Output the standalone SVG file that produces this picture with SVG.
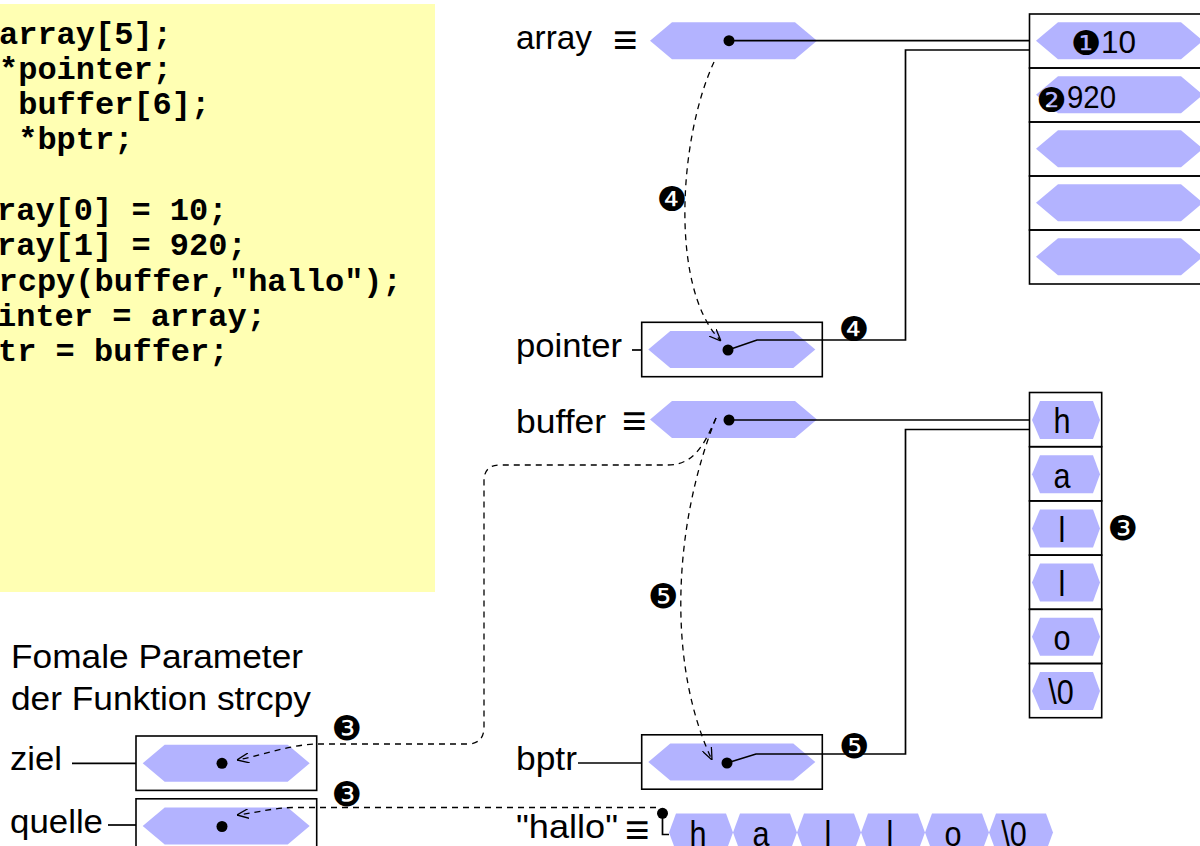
<svg xmlns="http://www.w3.org/2000/svg" xmlns:xlink="http://www.w3.org/1999/xlink" width="1200" height="846" viewBox="0 0 1200 846">
<style>
.lbl{font-family:"Liberation Sans",Arial,sans-serif;font-size:34px;fill:#000}
.eq{font-family:"Liberation Sans",Arial,sans-serif;font-size:42px;fill:#000}
.code{font-family:"Liberation Mono","Courier New",monospace;font-weight:bold;font-size:32px;fill:#000}
.cell{font-family:"Liberation Sans",Arial,sans-serif;font-size:36px;fill:#000;text-anchor:middle}
.val{font-family:"Liberation Sans",Arial,sans-serif;font-size:32px;fill:#000}
.num{font-family:"DejaVu Sans",sans-serif;font-size:34px;fill:#000;text-anchor:middle}
.hex{fill:#b3b3ff}
.box{fill:none;stroke:#000;stroke-width:1.6}
.ln{fill:none;stroke:#000;stroke-width:1.7}
.dash{fill:none;stroke:#000;stroke-width:1.3;stroke-dasharray:6 5}
.dot{fill:#000}
</style>
<defs>
<polygon id="hexL" class="hex" points="0,0 22,-18.5 145,-18.5 167,0 145,18.5 22,18.5"/>
<polygon id="hexS" class="hex" points="0,0 8,-19 61,-19 68,0 61,19 8,19"/>
<polygon id="hexH" class="hex" points="0,0 7,-19 57,-19 64,0 57,19 7,19"/>
<marker id="arr" viewBox="0 0 12 10" refX="12" refY="5" markerWidth="12" markerHeight="10" markerUnits="userSpaceOnUse" orient="auto">
<path d="M0,0 L12,5 L0,10" fill="none" stroke="#000" stroke-width="1.3"/>
</marker>
</defs>
<rect width="1200" height="846" fill="#fff"/>

<g id="code">
<rect x="0" y="4" width="435" height="588" fill="#ffffb3"/>
<text class="code" x="-1" y="43.5">array[5];</text>
<text class="code" x="-1" y="78.8">*pointer;</text>
<text class="code" x="18.2" y="114.1">buffer[6];</text>
<text class="code" x="18.2" y="149.4">*bptr;</text>
<text class="code" x="-3" y="220">ray[0] = 10;</text>
<text class="code" x="-3" y="255.3">ray[1] = 920;</text>
<text class="code" x="-1.5" y="290.6">rcpy(buffer,"hallo");</text>
<text class="code" x="-3" y="325.9">inter = array;</text>
<text class="code" x="-2" y="361.2">tr = buffer;</text>
</g>

<g id="node-array">
<text class="lbl" x="516" y="49" textLength="76" lengthAdjust="spacingAndGlyphs">array</text>
<text class="eq" x="613" y="54">≡</text>
<use xlink:href="#hexL" x="650" y="40.7"/>
<circle class="dot" cx="729" cy="40.7" r="5.5"/>
</g>

<g id="node-array-mem">
<rect class="box" x="1029.5" y="14" width="200" height="54"/>
<rect class="box" x="1029.5" y="68" width="200" height="54"/>
<rect class="box" x="1029.5" y="122" width="200" height="54"/>
<rect class="box" x="1029.5" y="176" width="200" height="54"/>
<rect class="box" x="1029.5" y="230" width="200" height="54"/>
<use xlink:href="#hexL" x="1036" y="40.7"/>
<use xlink:href="#hexL" x="1036" y="94.7"/>
<use xlink:href="#hexL" x="1036" y="148.7"/>
<use xlink:href="#hexL" x="1036" y="202.7"/>
<use xlink:href="#hexL" x="1036" y="256.7"/>
<text class="num" x="1086" y="54.6">❶</text>
<text class="val" x="1101" y="53.3" textLength="35" lengthAdjust="spacingAndGlyphs">10</text>
<text class="num" x="1051.5" y="111.6">❷</text>
<text class="val" x="1067" y="108" textLength="49" lengthAdjust="spacingAndGlyphs">920</text>
</g>

<g id="node-pointer">
<text class="lbl" x="516" y="357" textLength="106" lengthAdjust="spacingAndGlyphs">pointer</text>
<rect class="box" x="641.7" y="322.3" width="180.6" height="54.4"/>
<use xlink:href="#hexL" x="648.3" y="349.5"/>
<circle class="dot" cx="728" cy="350" r="5.5"/>
</g>

<g id="node-buffer">
<text class="lbl" x="516" y="433" textLength="90" lengthAdjust="spacingAndGlyphs">buffer</text>
<text class="eq" x="622" y="434.7">≡</text>
<use xlink:href="#hexL" x="650" y="419.5"/>
<circle class="dot" cx="729" cy="420" r="5.5"/>
</g>

<g id="node-buffer-mem">
<rect class="box" x="1029.5" y="392.5" width="72.2" height="54.2"/>
<rect class="box" x="1029.5" y="446.7" width="72.2" height="54.2"/>
<rect class="box" x="1029.5" y="500.9" width="72.2" height="54.2"/>
<rect class="box" x="1029.5" y="555.1" width="72.2" height="54.2"/>
<rect class="box" x="1029.5" y="609.3" width="72.2" height="54.2"/>
<rect class="box" x="1029.5" y="663.5" width="72.2" height="54.2"/>
<use xlink:href="#hexS" x="1032" y="420"/>
<use xlink:href="#hexS" x="1032" y="474.2"/>
<use xlink:href="#hexS" x="1032" y="528.4"/>
<use xlink:href="#hexS" x="1032" y="582.6"/>
<use xlink:href="#hexS" x="1032" y="636.8"/>
<use xlink:href="#hexS" x="1032" y="691"/>
<text class="cell" transform="translate(1062,433.3) scale(0.85,1)">h</text>
<text class="cell" transform="translate(1062,487.5) scale(0.85,1)">a</text>
<text class="cell" transform="translate(1062,541.7) scale(0.85,1)">l</text>
<text class="cell" transform="translate(1062,595.9) scale(0.85,1)">l</text>
<text class="cell" transform="translate(1062,650.1) scale(0.85,1)">o</text>
<text class="cell" transform="translate(1061,704.3) scale(0.85,1)">\0</text>
<text class="num" x="1123" y="539.6">❸</text>
</g>

<g id="node-bptr">
<text class="lbl" x="516" y="770" textLength="61" lengthAdjust="spacingAndGlyphs">bptr</text>
<rect class="box" x="641.7" y="734.8" width="180.6" height="54.4"/>
<use xlink:href="#hexL" x="648.3" y="762"/>
<circle class="dot" cx="727" cy="763" r="5.5"/>
</g>

<g id="node-params">
<text class="lbl" x="11" y="668" textLength="292" lengthAdjust="spacingAndGlyphs">Fomale Parameter</text>
<text class="lbl" x="11" y="709.5" textLength="300" lengthAdjust="spacingAndGlyphs">der Funktion strcpy</text>
</g>

<g id="node-ziel">
<text class="lbl" x="10" y="770" textLength="52" lengthAdjust="spacingAndGlyphs">ziel</text>
<rect class="box" x="136" y="736" width="180.7" height="54.4"/>
<use xlink:href="#hexL" x="142.7" y="763.3"/>
<circle class="dot" cx="222" cy="763.3" r="5.5"/>
</g>

<g id="node-quelle">
<text class="lbl" x="10" y="833" textLength="93" lengthAdjust="spacingAndGlyphs">quelle</text>
<rect class="box" x="136" y="798.8" width="180.7" height="54.4"/>
<use xlink:href="#hexL" x="142.7" y="826"/>
<circle class="dot" cx="222" cy="826.5" r="5.5"/>
</g>

<g id="node-hallo">
<text class="lbl" x="516" y="838" textLength="102" lengthAdjust="spacingAndGlyphs">"hallo"</text>
<text class="eq" x="625" y="843.7">≡</text>
<use xlink:href="#hexH" x="669" y="832.5"/>
<use xlink:href="#hexH" x="733" y="832.5"/>
<use xlink:href="#hexH" x="797" y="832.5"/>
<use xlink:href="#hexH" x="861" y="832.5"/>
<use xlink:href="#hexH" x="925" y="832.5"/>
<use xlink:href="#hexH" x="989" y="832.5"/>
<text class="cell" transform="translate(698,845.6) scale(0.85,1)">h</text>
<text class="cell" transform="translate(761,845.6) scale(0.85,1)">a</text>
<text class="cell" transform="translate(828,845.6) scale(0.85,1)">l</text>
<text class="cell" transform="translate(890,845.6) scale(0.85,1)">l</text>
<text class="cell" transform="translate(953,845.6) scale(0.85,1)">o</text>
<text class="cell" transform="translate(1014,845.6) scale(0.85,1)">\0</text>
<circle class="dot" cx="662.5" cy="813.3" r="5.5"/>
</g>

<g id="connectors">
<path class="ln" d="M729,40.7 H1029.5"/>
<path class="ln" d="M728,350 L757,340 H905.5 V50 H1029.5"/>
<path class="ln" d="M632,350 H641.7"/>
<path class="ln" d="M729,420 H1029.5"/>
<path class="ln" d="M727,763 L756,754 H905.5 V429.5 H1029.5"/>
<path class="ln" d="M578,763 H641.7"/>
<path class="ln" d="M72,763.3 H136"/>
<path class="ln" d="M108,825 H136"/>
<path class="ln" d="M662.5,813.3 V834.5 H669" stroke-width="1.4"/>
<path class="dash" d="M714,62 C678,140 670,290 721,341" marker-end="url(#arr)"/>
<path class="dash" d="M716,418 C675,520 665,660 712,760" marker-end="url(#arr)"/>
<path class="dash" d="M716,418 C706,440 696,465 668,465 H500 Q484,465 484,481 V727 Q484,744 467,744 H320 C290,744 265,755 237,760" marker-end="url(#arr)"/>
<path class="dash" d="M656,807.5 H295 C275,807.5 260,812 237,815" marker-end="url(#arr)"/>
</g>

<g id="step-labels">
<text class="num" x="672" y="210.6">❹</text>
<text class="num" x="854" y="340.6">❹</text>
<text class="num" x="663" y="607.6">❺</text>
<text class="num" x="854" y="757.6">❺</text>
<text class="num" x="347" y="739.6">❸</text>
<text class="num" x="347" y="805.6">❸</text>
</g>
</svg>
